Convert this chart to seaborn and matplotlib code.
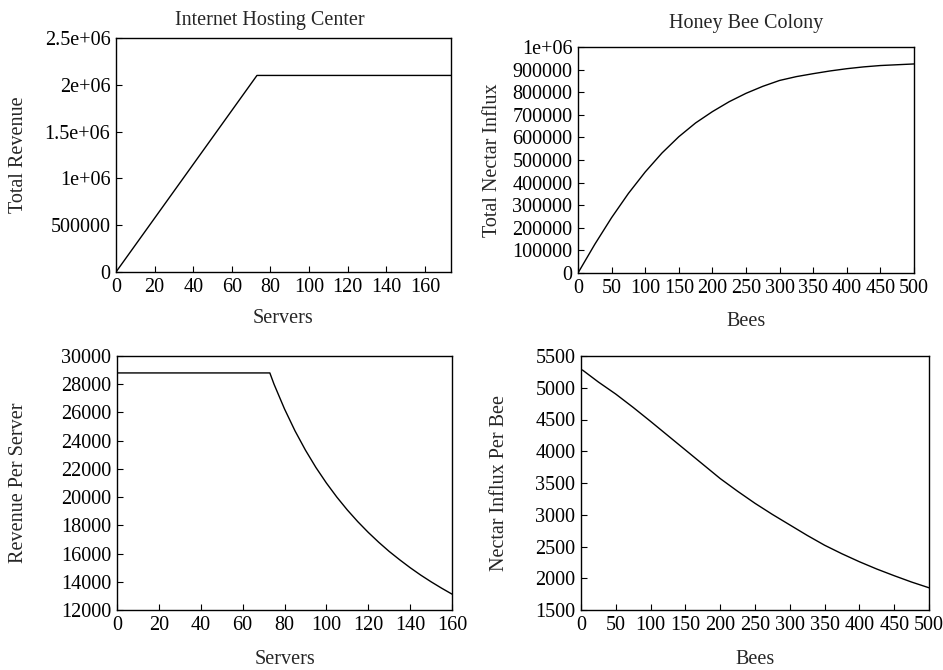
import numpy as np
import pandas as pd
import matplotlib
matplotlib.use('Agg')
import matplotlib.pyplot as plt
import seaborn as sns

# Internet hosting center: total revenue vs servers
servers_total = [0, 73, 173.5]
revenue_total = [0, 2.1e6, 2.1e6]

# revenue per server vs servers
servers_per = [0, 73, 75, 80, 85, 90, 95, 100, 105, 110, 115, 120, 125, 130,
               135, 140, 145, 150, 155, 160]
revenue_per = [28800, 28800, 28000, 26250, 24700, 23330, 22100, 21000, 20000,
               19090, 18260, 17500, 16800, 16150, 15560, 15000, 14480, 14000,
               13550, 13125]

# honey bee colony: total nectar influx vs bees
bees_total = [0, 25, 50, 75, 100, 125, 150, 175, 200, 225, 250, 275, 300, 325,
              350, 375, 400, 425, 450, 475, 500]
nectar_total = [0, 127000, 245000, 352000, 447000, 531000, 603000, 664000,
                714000, 758000, 795000, 826000, 852000, 869000, 882000, 894000,
                904000, 912000, 918000, 921500, 925000]

# nectar influx per bee vs bees
bees_per = [2, 25, 50, 75, 100, 125, 150, 175, 200, 225, 250, 275, 300, 325,
            350, 375, 400, 425, 450, 475, 500]
nectar_per = [5280, 5090, 4900, 4690, 4470, 4245, 4020, 3795, 3570, 3370, 3180,
              3005, 2840, 2675, 2520, 2385, 2260, 2145, 2040, 1940, 1850]

sns.set_theme(style='ticks')
plt.rcParams['font.family'] = ['Liberation Serif', 'DejaVu Serif']
plt.rcParams['axes.linewidth'] = 1.0
plt.rcParams['xtick.direction'] = 'in'
plt.rcParams['ytick.direction'] = 'in'

FS = 14.5
fig = plt.figure(figsize=(9.43, 6.70), dpi=100)
W, H = 943, 670

def make_ax(l, r, t, b):
    return fig.add_axes([l / W, (H - b) / H, (r - l) / W, (b - t) / H])

panels = [
    dict(box=(116, 451, 38, 272), x=servers_total, y=revenue_total,
         xlim=(0, 173.5), ylim=(0, 2.5e6), xt=np.arange(0, 161, 20),
         yt=[0, 5e5, 1e6, 1.5e6, 2e6, 2.5e6],
         ytl=['0', '500000', '1e+06', '1.5e+06', '2e+06', '2.5e+06'],
         xlabel='Servers', ylabel='Total Revenue', title='Internet Hosting Center',
         title_x=0.46, title_pad=9.5, xl=-0.16, yl=-0.263),
    dict(box=(578, 914, 47, 273), x=bees_total, y=nectar_total,
         xlim=(0, 500), ylim=(0, 1e6), xt=np.arange(0, 501, 50),
         yt=np.arange(0, 1000001, 100000),
         ytl=[str(v) for v in range(0, 1000000, 100000)] + ['1e+06'],
         xlabel='Bees', ylabel='Total Nectar Influx', title='Honey Bee Colony',
         title_x=0.5, title_pad=13.5, xl=-0.172, yl=-0.225),
    dict(box=(117, 452, 356, 610), x=servers_per, y=revenue_per,
         xlim=(0, 160), ylim=(12000, 30000), xt=np.arange(0, 161, 20),
         yt=np.arange(12000, 30001, 2000), ytl=None,
         xlabel='Servers', ylabel='Revenue Per Server', title=None,
         xl=-0.157, yl=-0.266),
    dict(box=(581, 929, 356, 610), x=bees_per, y=nectar_per,
         xlim=(0, 500), ylim=(1500, 5500), xt=np.arange(0, 501, 50),
         yt=np.arange(1500, 5501, 500), ytl=None,
         xlabel='Bees', ylabel='Nectar Influx Per Bee', title=None,
         xl=-0.157, yl=-0.207),
]

for p in panels:
    ax = make_ax(*p['box'])
    df = pd.DataFrame({'x': p['x'], 'y': p['y']})
    sns.lineplot(data=df, x='x', y='y', ax=ax, color='black', linewidth=1.0)
    ax.set_xlim(*p['xlim'])
    ax.set_ylim(*p['ylim'])
    ax.set_xticks(p['xt'])
    ax.set_xticklabels([str(int(v)) for v in p['xt']])
    ax.set_yticks(p['yt'])
    if p['ytl'] is not None:
        ax.set_yticklabels(p['ytl'])
    else:
        ax.set_yticklabels([str(int(v)) for v in p['yt']])
    ax.tick_params(length=4, width=0.8, pad=4, labelsize=FS, colors='black')
    for s in ax.spines.values():
        s.set_color('black')
    ax.set_xlabel(p['xlabel'], fontsize=FS)
    ax.set_ylabel(p['ylabel'], fontsize=FS)
    ax.xaxis.set_label_coords(0.5, p['xl'])
    ax.yaxis.set_label_coords(p['yl'], 0.5)
    if p['title']:
        ax.set_title(p['title'], fontsize=FS, x=p['title_x'], pad=p['title_pad'])

fig.savefig('out.png', dpi=100)
